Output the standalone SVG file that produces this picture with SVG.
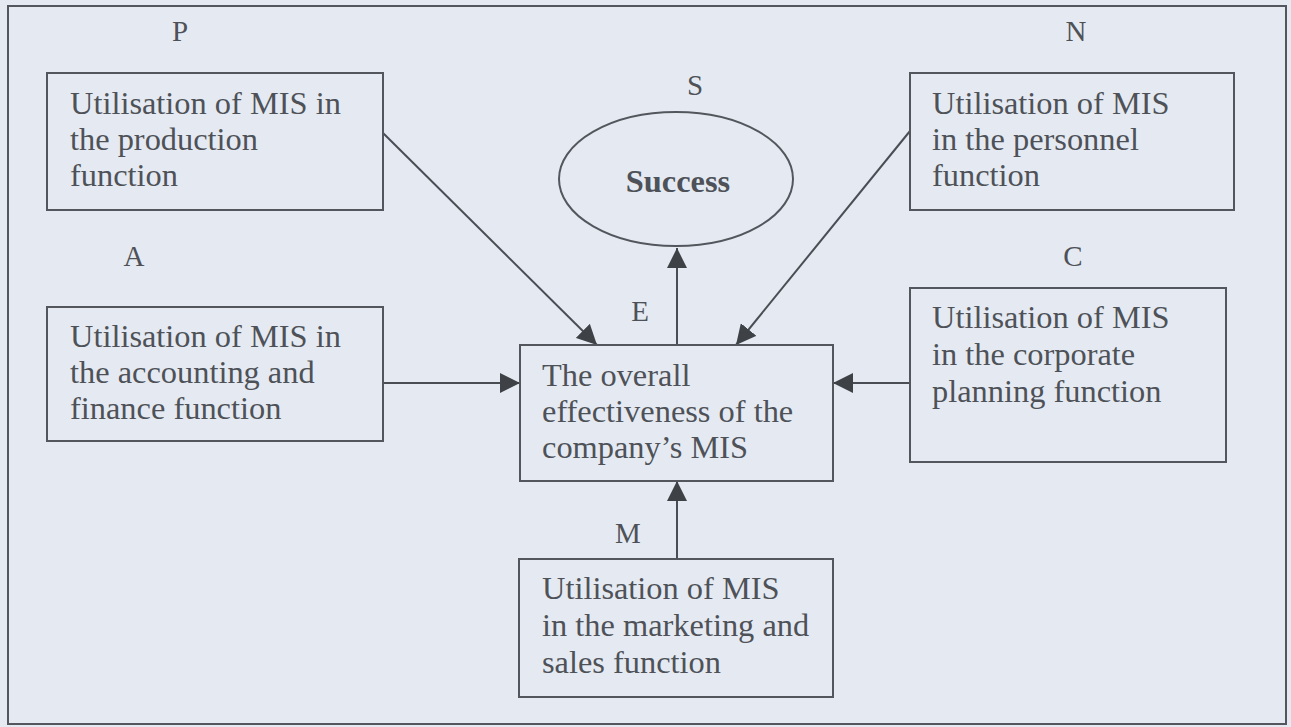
<svg xmlns="http://www.w3.org/2000/svg" width="1291" height="727" viewBox="0 0 1291 727">
  <style>
    .box { fill: none; stroke: #53575d; stroke-width: 2; }
    .txt { font-family: 'Liberation Serif', 'DejaVu Serif', serif; font-size: 32.4px; fill: #4e5258; }
    .lbl { font-family: 'Liberation Serif', 'DejaVu Serif', serif; font-size: 29px; fill: #4e5258; }
    .edge { stroke: #4a4e54; stroke-width: 2; fill: none; marker-end: url(#arrow); }
  </style>
  <defs>
    <marker id="arrow" viewBox="0 0 20 20" refX="20" refY="10" markerWidth="20" markerHeight="20" markerUnits="userSpaceOnUse" orient="auto">
      <path d="M0,0 L20,10 L0,20 Z" fill="#3e4247"/>
    </marker>
  </defs>

  <rect x="0" y="0" width="1291" height="727" fill="#e5eaf2"/>
  <rect x="8" y="6" width="1278" height="718" class="box"/>

  <g id="connectors">
    <line x1="383" y1="133" x2="597" y2="345" class="edge"/>
    <line x1="910" y1="131" x2="736" y2="345" class="edge"/>
    <line x1="383" y1="383" x2="520" y2="383" class="edge"/>
    <line x1="910" y1="383" x2="833" y2="383" class="edge"/>
    <line x1="677" y1="345" x2="677" y2="248" class="edge"/>
    <line x1="677" y1="559" x2="677" y2="481" class="edge"/>
  </g>

  <g id="node-p">
    <text x="180" y="41" class="lbl" text-anchor="middle">P</text>
    <rect x="47" y="73" width="336" height="137" class="box"/>
    <text class="txt"><tspan x="70" y="114">Utilisation of MIS in</tspan><tspan x="70" y="150">the production</tspan><tspan x="70" y="186">function</tspan></text>
  </g>

  <g id="node-a">
    <text x="134" y="266" class="lbl" text-anchor="middle">A</text>
    <rect x="47" y="307" width="336" height="134" class="box"/>
    <text class="txt"><tspan x="70" y="347">Utilisation of MIS in</tspan><tspan x="70" y="383">the accounting and</tspan><tspan x="70" y="419">finance function</tspan></text>
  </g>

  <g id="node-s">
    <text x="695" y="95" class="lbl" text-anchor="middle">S</text>
    <ellipse cx="676" cy="179" rx="117" ry="67" class="box"/>
    <text x="678" y="192" class="txt" text-anchor="middle" font-weight="bold" font-size="29">Success</text>
  </g>

  <g id="node-e">
    <text x="640" y="321" class="lbl" text-anchor="middle">E</text>
    <rect x="520" y="345" width="313" height="136" class="box"/>
    <text class="txt"><tspan x="542" y="386">The overall</tspan><tspan x="542" y="422">effectiveness of the</tspan><tspan x="542" y="458">company’s MIS</tspan></text>
  </g>

  <g id="node-n">
    <text x="1076" y="41" class="lbl" text-anchor="middle">N</text>
    <rect x="910" y="73" width="324" height="137" class="box"/>
    <text class="txt"><tspan x="932" y="114">Utilisation of MIS</tspan><tspan x="932" y="150">in the personnel</tspan><tspan x="932" y="186">function</tspan></text>
  </g>

  <g id="node-c">
    <text x="1073" y="266" class="lbl" text-anchor="middle">C</text>
    <rect x="910" y="288" width="316" height="174" class="box"/>
    <text class="txt"><tspan x="932" y="328">Utilisation of MIS</tspan><tspan x="932" y="365">in the corporate</tspan><tspan x="932" y="402">planning function</tspan></text>
  </g>

  <g id="node-m">
    <text x="628" y="543" class="lbl" text-anchor="middle">M</text>
    <rect x="519" y="559" width="314" height="138" class="box"/>
    <text class="txt"><tspan x="542" y="599">Utilisation of MIS</tspan><tspan x="542" y="636">in the marketing and</tspan><tspan x="542" y="673">sales function</tspan></text>
  </g>
</svg>
